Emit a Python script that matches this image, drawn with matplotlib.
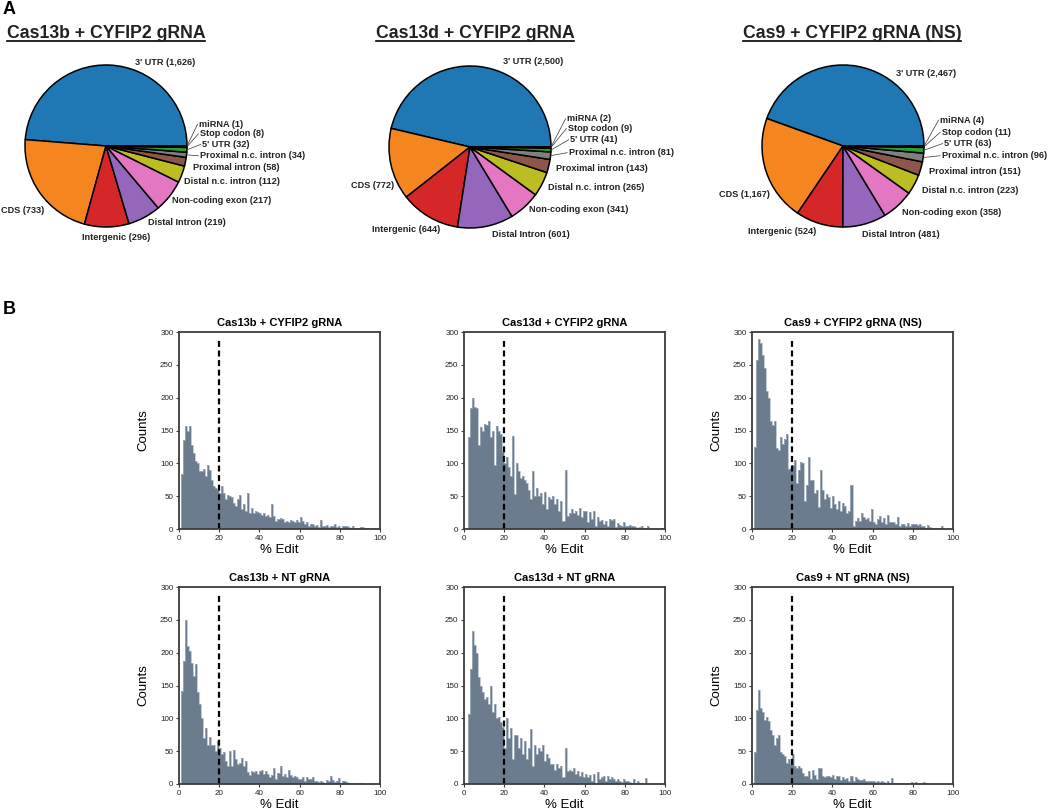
import numpy as np
import matplotlib
matplotlib.use("Agg")
import matplotlib.pyplot as plt
from matplotlib.lines import Line2D

plt.rcParams['font.family'] = ['Liberation Sans', 'DejaVu Sans']
plt.rcParams['lines.scale_dashes'] = False

W, H = 1050, 811

# ---------------- data ----------------
categories = ["3' UTR", "CDS", "Intergenic", "Distal Intron", "Non-coding exon",
              "Distal n.c. intron", "Proximal intron", "Proximal n.c. intron",
              "5' UTR", "Stop codon", "miRNA"]
pie_colors = ['#1f77b4', '#f5851f', '#d62728', '#9467bd', '#e377c2', '#bcbd22',
              '#8c564b', '#7f7f7f', '#2ca02c', '#17becf', '#222222']

pie_titles = ["Cas13b + CYFIP2 gRNA", "Cas13d + CYFIP2 gRNA", "Cas9 + CYFIP2 gRNA (NS)"]
cas13b_region_counts = [1626, 733, 296, 219, 217, 112, 58, 34, 32, 8, 1]
cas13d_region_counts = [2500, 772, 644, 601, 341, 265, 143, 81, 41, 9, 2]
cas9_region_counts = [2467, 1167, 524, 481, 358, 223, 151, 96, 63, 11, 4]

hist_titles = ["Cas13b + CYFIP2 gRNA", "Cas13d + CYFIP2 gRNA", "Cas9 + CYFIP2 gRNA (NS)",
               "Cas13b + NT gRNA", "Cas13d + NT gRNA", "Cas9 + NT gRNA (NS)"]
edit_bins = list(range(0, 101))   # 1 % wide bins

cas13b_cyfip2 = [0, 83, 135, 157, 150, 157, 128, 115, 103, 100,
                 88, 88, 92, 80, 97, 90, 75, 65, 62, 60,
                 55, 65, 55, 45, 52, 50, 48, 40, 35, 45,
                 52, 30, 38, 28, 55, 25, 32, 25, 28, 26,
                 25, 22, 25, 20, 22, 18, 38, 20, 12, 15,
                 16, 15, 10, 12, 10, 14, 12, 10, 13, 10,
                 18, 12, 8, 10, 5, 8, 7, 4, 6, 3,
                 14, 5, 4, 6, 3, 5, 4, 7, 3, 5,
                 2, 4, 4, 4, 3, 2, 4, 2, 1, 2,
                 3, 3, 2, 1, 1, 0, 0, 0, 0, 0]
cas13d_cyfip2 = [0, 0, 140, 185, 200, 186, 185, 128, 155, 150,
                 160, 158, 165, 140, 150, 98, 157, 150, 145, 118,
                 100, 110, 95, 80, 142, 53, 100, 88, 77, 80,
                 75, 70, 60, 45, 88, 50, 62, 50, 55, 38,
                 56, 30, 48, 45, 50, 38, 45, 28, 42, 12,
                 90, 20, 25, 30, 25, 28, 22, 32, 18, 28,
                 27, 10, 26, 15, 28, 5, 18, 12, 14, 8,
                 12, 5, 15, 14, 15, 3, 9, 6, 5, 10,
                 5, 4, 6, 5, 4, 3, 1, 3, 5, 1,
                 2, 5, 0, 0, 0, 0, 0, 0, 1, 1]
cas9_cyfip2 = [0, 125, 258, 290, 283, 265, 245, 210, 200, 165,
               158, 165, 123, 120, 140, 130, 137, 144, 92, 93,
               97, 105, 70, 90, 102, 100, 42, 67, 110, 75,
               75, 55, 60, 34, 90, 60, 45, 53, 48, 32,
               50, 38, 30, 43, 28, 40, 35, 25, 28, 67,
               5, 12, 17, 12, 25, 18, 15, 17, 12, 30,
               10, 7, 15, 20, 10, 17, 8, 22, 10, 10,
               11, 8, 18, 5, 7, 8, 4, 9, 5, 7,
               8, 7, 6, 7, 5, 4, 2, 6, 3, 1,
               2, 1, 0, 1, 4, 0, 0, 0, 0, 0]
cas13b_nt = [0, 142, 187, 250, 210, 203, 185, 165, 183, 140,
             122, 100, 70, 85, 60, 72, 60, 60, 50, 65,
             55, 45, 48, 35, 28, 50, 28, 52, 38, 30,
             32, 40, 28, 35, 18, 14, 20, 18, 20, 15,
             20, 22, 15, 20, 15, 10, 14, 25, 8, 16,
             27, 12, 15, 10, 22, 14, 10, 12, 10, 8,
             8, 10, 4, 10, 8, 7, 10, 5, 5, 3,
             5, 3, 2, 6, 5, 12, 6, 3, 5, 9,
             2, 4, 5, 3, 2, 1, 0, 2, 0, 1,
             2, 1, 0, 0, 0, 0, 0, 0, 0, 0]
cas13d_nt = [0, 0, 107, 175, 233, 212, 200, 163, 150, 140,
             130, 133, 122, 150, 110, 122, 100, 102, 95, 87,
             55, 100, 70, 86, 38, 75, 75, 55, 70, 45,
             65, 38, 55, 83, 28, 60, 45, 55, 50, 60,
             35, 45, 40, 30, 30, 22, 30, 25, 28, 10,
             55, 20, 22, 20, 25, 15, 20, 12, 18, 10,
             15, 10, 13, 5, 15, 2, 18, 8, 10, 12,
             5, 12, 8, 10, 8, 4, 8, 4, 3, 8,
             4, 5, 3, 2, 8, 2, 5, 2, 1, 2,
             9, 1, 0, 0, 0, 0, 1, 0, 0, 0]
cas9_nt = [0, 48, 113, 143, 115, 110, 98, 102, 96, 82,
           75, 60, 70, 75, 48, 45, 43, 32, 38, 30,
           45, 28, 25, 28, 24, 17, 12, 12, 20, 8,
           22, 14, 8, 25, 24, 12, 10, 12, 12, 10,
           14, 8, 12, 12, 6, 10, 8, 9, 5, 12,
           5, 10, 8, 6, 6, 7, 5, 5, 4, 4,
           5, 3, 4, 3, 4, 3, 2, 4, 1, 9,
           1, 2, 2, 2, 1, 0, 0, 2, 2, 3,
           2, 3, 2, 1, 1, 3, 1, 0, 2, 0,
           0, 0, 0, 0, 0, 0, 0, 0, 0, 0]
edit_threshold = 20

# ---------------- layout ----------------
pie_counts = [cas13b_region_counts, cas13d_region_counts, cas9_region_counts]
pie_centers = [(106, 146), (470, 147), (843, 146)]
pie_r = 81
title_x = [106, 475, 852]
# label positions in units of pie radius (x, y, ha)
label_pos = [
    [(0.36, 1.03, 'left'), (-0.76, -0.80, 'right'), (-0.30, -1.13, 'left'),
     (0.52, -0.94, 'left'), (0.81, -0.67, 'left'), (0.96, -0.44, 'left'),
     (1.07, -0.27, 'left'), (1.16, -0.12, 'left'), (1.19, 0.02, 'left'),
     (1.16, 0.15, 'left'), (1.15, 0.27, 'left')],
    [(0.41, 1.06, 'left'), (-0.94, -0.48, 'right'), (-1.21, -1.02, 'left'),
     (0.27, -1.08, 'left'), (0.73, -0.77, 'left'), (0.96, -0.50, 'left'),
     (1.06, -0.26, 'left'), (1.22, -0.07, 'left'), (1.24, 0.09, 'left'),
     (1.21, 0.23, 'left'), (1.20, 0.35, 'left')],
    [(0.66, 0.90, 'left'), (-0.90, -0.60, 'right'), (-1.17, -1.06, 'left'),
     (0.23, -1.09, 'left'), (0.73, -0.82, 'left'), (0.97, -0.55, 'left'),
     (1.06, -0.31, 'left'), (1.22, -0.12, 'left'), (1.25, 0.03, 'left'),
     (1.22, 0.17, 'left'), (1.20, 0.32, 'left')],
]
leader_idx = [7, 8, 9, 10]

hist_data = [cas13b_cyfip2, cas13d_cyfip2, cas9_cyfip2, cas13b_nt, cas13d_nt, cas9_nt]
hist_lefts = [179, 464, 752]
hist_tops = [332, 587]
hist_w, hist_h = 201, 197
bar_color = '#6b7c8e'
bar_edge = '#aab6c2'
spine_color = '#3c3c3c'


def px_axes(fig, left, top, w, h):
    return fig.add_axes([left / W, 1 - (top + h) / H, w / W, h / H])


fig = plt.figure(figsize=(W / 100, H / 100), dpi=100)

# panel letters
fig.text(3 / W, 1 - 9 / H, 'A', fontsize=13, fontweight='bold', va='center', ha='left')
fig.text(3 / W, 1 - 309 / H, 'B', fontsize=13, fontweight='bold', va='center', ha='left')

# ---------------- pies ----------------
title_texts = []
for i, counts in enumerate(pie_counts):
    cx, cy = pie_centers[i]
    ax = px_axes(fig, cx - 2 * pie_r, cy - 2 * pie_r, 4 * pie_r, 4 * pie_r)
    wedges, _ = ax.pie(counts, colors=pie_colors, startangle=0, counterclock=True,
                       wedgeprops=dict(edgecolor='black', linewidth=1.1))
    ax.set_xlim(-2, 2)
    ax.set_ylim(-2, 2)
    ax.set_aspect('equal')
    ax.axis('off')
    for j, (cat, n) in enumerate(zip(categories, counts)):
        tx, ty, ha = label_pos[i][j]
        ax.text(tx, ty, f"{cat} ({n:,})", fontsize=6.6, fontweight='bold',
                color='#222222', ha=ha, va='center', clip_on=False)
        if j in leader_idx:
            w = wedges[j]
            ang = np.deg2rad((w.theta1 + w.theta2) / 2)
            ax.plot([np.cos(ang), tx - 0.02], [np.sin(ang), ty], color='#333333',
                    lw=0.5, clip_on=False)
    t = fig.text(title_x[i] / W, 1 - 38 / H, pie_titles[i], fontsize=12.7,
                 fontweight='bold', color='#222222', ha='center', va='baseline')
    title_texts.append(t)

# ---------------- histograms ----------------
for k, counts in enumerate(hist_data):
    row, col = divmod(k, 3)
    ax = px_axes(fig, hist_lefts[col], hist_tops[row], hist_w, hist_h)
    ax.stairs(counts, edit_bins, fill=True, color=bar_color, lw=0)
    ax.stairs(counts, edit_bins, color=bar_edge, lw=0.5, baseline=None)
    ax.plot([edit_threshold, edit_threshold], [0, 288], color='black', lw=1.6,
            ls=(0, (4.3, 2.6)))
    ax.set_xlim(0, 100)
    ax.set_ylim(0, 300)
    ax.set_xticks(range(0, 101, 20))
    ax.set_yticks(range(0, 301, 50))
    ax.tick_params(labelsize=5.8, length=2.5, width=0.8, color=spine_color,
                   labelcolor='#222222', pad=1.5)
    for s in ax.spines.values():
        s.set_color(spine_color)
        s.set_linewidth(1.3)
    ax.set_title(hist_titles[k], fontsize=8, fontweight='bold', pad=4)
    ax.set_xlabel('% Edit', fontsize=9.5, labelpad=2)
    if col != 1:
        ax.set_ylabel('Counts', fontsize=9.5, labelpad=8)

# underline pie titles
fig.canvas.draw()
for t in title_texts:
    bb = t.get_window_extent()
    y = H - 41
    fig.add_artist(Line2D([bb.x0, bb.x1], [y, y], color='black', lw=1.2,
                          transform=None))

fig.savefig('out.png', dpi=100)
